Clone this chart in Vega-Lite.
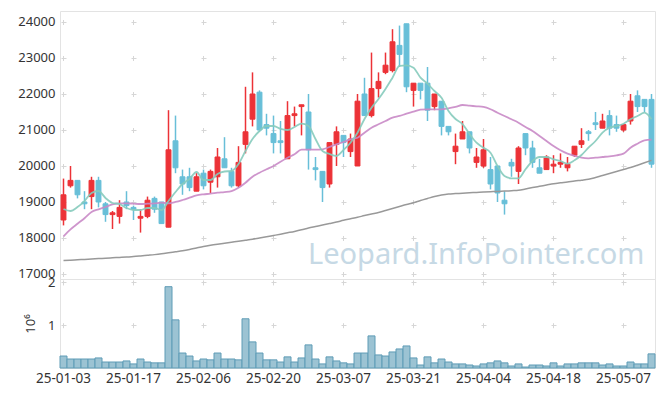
{
"$schema": "https://vega.github.io/schema/vega-lite/v6.json",
"padding": {"left": 17, "top": 10, "right": 9, "bottom": 5},
"spacing": 0,
"bounds": "flush",
"config": {
 "view": {"stroke": "#e3e3e3", "strokeWidth": 1},
 "axis": {"labelFont": "Noto Sans", "titleFont": "Noto Sans", "labelColor": "#333333", "titleColor": "#333333", "labelFontSize": 13, "domain": false, "ticks": false, "gridColor": "#d6d6d6", "gridWidth": 1}
},
"datasets": {"k": [
{"d":"25-01-03","o":18500,"h":19650,"l":18350,"c":19200,"v":280000,"m5":18805,"m20":18047,"m120":17374},
{"d":"25-01-06","o":19450,"h":20000,"l":19400,"c":19600,"v":210000,"m5":18750,"m20":18241,"m120":17383},
{"d":"25-01-07","o":19600,"h":19600,"l":19100,"c":19200,"v":210000,"m5":18861,"m20":18397,"m120":17394},
{"d":"25-01-08","o":19000,"h":19300,"l":18800,"c":18950,"v":210000,"m5":19027,"m20":18547,"m120":17405},
{"d":"25-01-09","o":19150,"h":19700,"l":18800,"c":19600,"v":210000,"m5":19250,"m20":18722,"m120":17416},
{"d":"25-01-10","o":19600,"h":19700,"l":18850,"c":19000,"v":235000,"m5":19305,"m20":18797,"m120":17427},
{"d":"25-01-13","o":18950,"h":19000,"l":18450,"c":18650,"v":140000,"m5":19111,"m20":18861,"m120":17438},
{"d":"25-01-14","o":18650,"h":18750,"l":18250,"c":18700,"v":140000,"m5":18972,"m20":18936,"m120":17449},
{"d":"25-01-15","o":18600,"h":19050,"l":18400,"c":18850,"v":140000,"m5":18944,"m20":18964,"m120":17461},
{"d":"25-01-16","o":19000,"h":19300,"l":18800,"c":18900,"v":165000,"m5":18833,"m20":18964,"m120":17472},
{"d":"25-01-17","o":18850,"h":18900,"l":18500,"c":18800,"v":95000,"m5":18777,"m20":18953,"m120":17483},
{"d":"25-01-20","o":18550,"h":18800,"l":18150,"c":18600,"v":210000,"m5":18777,"m20":18944,"m120":17500},
{"d":"25-01-21","o":18600,"h":19150,"l":18550,"c":19050,"v":140000,"m5":18833,"m20":18953,"m120":17519},
{"d":"25-01-22","o":19100,"h":19150,"l":18700,"c":18800,"v":120000,"m5":18833,"m20":18964,"m120":17538},
{"d":"25-01-23","o":19000,"h":19000,"l":18400,"c":18400,"v":120000,"m5":18777,"m20":18980,"m120":17561},
{"d":"25-01-24","o":18300,"h":21550,"l":18300,"c":20450,"v":1900000,"m5":19027,"m20":18964,"m120":17588},
{"d":"25-01-31","o":20700,"h":21400,"l":19800,"c":19950,"v":1125000,"m5":19277,"m20":19000,"m120":17616},
{"d":"25-02-03","o":19700,"h":19900,"l":19200,"c":19500,"v":350000,"m5":19500,"m20":19055,"m120":17644},
{"d":"25-02-04","o":19700,"h":19950,"l":19300,"c":19400,"v":280000,"m5":19639,"m20":19119,"m120":17680},
{"d":"25-02-05","o":19300,"h":19800,"l":19300,"c":19700,"v":165000,"m5":19833,"m20":19186,"m120":17722},
{"d":"25-02-06","o":19800,"h":19900,"l":19350,"c":19450,"v":210000,"m5":19611,"m20":19214,"m120":17763},
{"d":"25-02-07","o":19550,"h":19900,"l":19250,"c":19850,"v":190000,"m5":19611,"m20":19230,"m120":17797},
{"d":"25-02-10","o":19700,"h":20500,"l":19400,"c":20250,"v":350000,"m5":19777,"m20":19258,"m120":17827},
{"d":"25-02-11","o":20200,"h":20800,"l":19950,"c":19950,"v":210000,"m5":19847,"m20":19277,"m120":17855},
{"d":"25-02-12","o":19850,"h":19950,"l":19400,"c":19450,"v":210000,"m5":19861,"m20":19305,"m120":17883},
{"d":"25-02-13","o":19450,"h":20550,"l":19400,"c":20100,"v":190000,"m5":20055,"m20":19397,"m120":17911},
{"d":"25-02-14","o":20600,"h":22200,"l":20350,"c":20950,"v":1150000,"m5":20416,"m20":19536,"m120":17938},
{"d":"25-02-17","o":21300,"h":22600,"l":21100,"c":22000,"v":610000,"m5":20750,"m20":19702,"m120":17966},
{"d":"25-02-18","o":22050,"h":22100,"l":20950,"c":21000,"v":350000,"m5":20972,"m20":19814,"m120":18000},
{"d":"25-02-19","o":21150,"h":21450,"l":20850,"c":21050,"v":190000,"m5":21111,"m20":19908,"m120":18033},
{"d":"25-02-20","o":20900,"h":21400,"l":20350,"c":20650,"v":190000,"m5":21111,"m20":20000,"m120":18069},
{"d":"25-02-21","o":20700,"h":21250,"l":20350,"c":20650,"v":140000,"m5":21028,"m20":20119,"m120":18105},
{"d":"25-02-24","o":20200,"h":21800,"l":20200,"c":21400,"v":260000,"m5":21000,"m20":20230,"m120":18144},
{"d":"25-02-25","o":21400,"h":21650,"l":21100,"c":21450,"v":140000,"m5":21083,"m20":20325,"m120":18183},
{"d":"25-02-26","o":21650,"h":21700,"l":20850,"c":21700,"v":235000,"m5":21175,"m20":20453,"m120":18227},
{"d":"25-02-27","o":21500,"h":22000,"l":19900,"c":20450,"v":540000,"m5":21111,"m20":20453,"m120":18277},
{"d":"25-02-28","o":19950,"h":20250,"l":19600,"c":19900,"v":210000,"m5":20750,"m20":20453,"m120":18319},
{"d":"25-03-04","o":19850,"h":19850,"l":19000,"c":19400,"v":95000,"m5":20416,"m20":20464,"m120":18361},
{"d":"25-03-05","o":19500,"h":20650,"l":19400,"c":20650,"v":260000,"m5":20333,"m20":20528,"m120":18402},
{"d":"25-03-06","o":20600,"h":21100,"l":20000,"c":20950,"v":165000,"m5":20278,"m20":20603,"m120":18444},
{"d":"25-03-07","o":20850,"h":20850,"l":20250,"c":20650,"v":120000,"m5":20444,"m20":20666,"m120":18491},
{"d":"25-03-10","o":20400,"h":20900,"l":20250,"c":20750,"v":95000,"m5":20647,"m20":20741,"m120":18533},
{"d":"25-03-11","o":20000,"h":22000,"l":20000,"c":21800,"v":350000,"m5":20925,"m20":20786,"m120":18575},
{"d":"25-03-12","o":22000,"h":22450,"l":21400,"c":21400,"v":350000,"m5":21305,"m20":20925,"m120":18622},
{"d":"25-03-13","o":21400,"h":23150,"l":21350,"c":22150,"v":750000,"m5":21619,"m20":21064,"m120":18666},
{"d":"25-03-14","o":22150,"h":22600,"l":21900,"c":22350,"v":305000,"m5":21861,"m20":21158,"m120":18708},
{"d":"25-03-17","o":22600,"h":23150,"l":22550,"c":22800,"v":280000,"m5":22139,"m20":21250,"m120":18764},
{"d":"25-03-18","o":22650,"h":23800,"l":22600,"c":23450,"v":375000,"m5":22453,"m20":21341,"m120":18819},
{"d":"25-03-19","o":23350,"h":23900,"l":22750,"c":23100,"v":445000,"m5":22778,"m20":21389,"m120":18875},
{"d":"25-03-20","o":23950,"h":23950,"l":22050,"c":22200,"v":515000,"m5":22797,"m20":21453,"m120":18930},
{"d":"25-03-21","o":22100,"h":22300,"l":21650,"c":22300,"v":235000,"m5":22731,"m20":21508,"m120":18980},
{"d":"25-03-24","o":22300,"h":22300,"l":21850,"c":22100,"v":70000,"m5":22453,"m20":21564,"m120":19041},
{"d":"25-03-25","o":22300,"h":22750,"l":21250,"c":21550,"v":260000,"m5":22286,"m20":21575,"m120":19097},
{"d":"25-03-26","o":21650,"h":22000,"l":21550,"c":22000,"v":120000,"m5":22083,"m20":21575,"m120":19152},
{"d":"25-03-27","o":21800,"h":21800,"l":20850,"c":21100,"v":210000,"m5":21897,"m20":21575,"m120":19194},
{"d":"25-03-28","o":21100,"h":21100,"l":20850,"c":20950,"v":140000,"m5":21528,"m20":21603,"m120":19222},
{"d":"25-03-31","o":20400,"h":20900,"l":20050,"c":20550,"v":95000,"m5":21305,"m20":21639,"m120":19233},
{"d":"25-04-01","o":20750,"h":21250,"l":20750,"c":20950,"v":95000,"m5":21166,"m20":21694,"m120":19244},
{"d":"25-04-02","o":20950,"h":20950,"l":20350,"c":20500,"v":70000,"m5":20889,"m20":21675,"m120":19255},
{"d":"25-04-03","o":20100,"h":20500,"l":19950,"c":20250,"v":47000,"m5":20647,"m20":21658,"m120":19266},
{"d":"25-04-04","o":20000,"h":20750,"l":19950,"c":20450,"v":95000,"m5":20508,"m20":21639,"m120":19277},
{"d":"25-04-07","o":19900,"h":20250,"l":19350,"c":19500,"v":120000,"m5":20369,"m20":21575,"m120":19286},
{"d":"25-04-08","o":20000,"h":20000,"l":19000,"c":19250,"v":165000,"m5":20000,"m20":21480,"m120":19294},
{"d":"25-04-09","o":19050,"h":19300,"l":18650,"c":18950,"v":120000,"m5":19722,"m20":21389,"m120":19302},
{"d":"25-04-10","o":20100,"h":20200,"l":19700,"c":20000,"v":47000,"m5":19658,"m20":21297,"m120":19313},
{"d":"25-04-11","o":19850,"h":20550,"l":19500,"c":20500,"v":95000,"m5":19658,"m20":21203,"m120":19324},
{"d":"25-04-14","o":20900,"h":20900,"l":20300,"c":20500,"v":23000,"m5":19908,"m20":21083,"m120":19361},
{"d":"25-04-15","o":20500,"h":20700,"l":19950,"c":20100,"v":70000,"m5":20139,"m20":20972,"m120":19400},
{"d":"25-04-16","o":19950,"h":20200,"l":19800,"c":19800,"v":70000,"m5":20250,"m20":20833,"m120":19436},
{"d":"25-04-17","o":19900,"h":20300,"l":19900,"c":20250,"v":47000,"m5":20250,"m20":20694,"m120":19472},
{"d":"25-04-18","o":20000,"h":20300,"l":19800,"c":20050,"v":120000,"m5":20186,"m20":20555,"m120":19508},
{"d":"25-04-21","o":20050,"h":20350,"l":19950,"c":20100,"v":47000,"m5":20139,"m20":20436,"m120":19533},
{"d":"25-04-22","o":19950,"h":20250,"l":19850,"c":20050,"v":95000,"m5":20064,"m20":20342,"m120":19555},
{"d":"25-04-23","o":20300,"h":20550,"l":20250,"c":20550,"v":95000,"m5":20158,"m20":20278,"m120":19583},
{"d":"25-04-24","o":20600,"h":21050,"l":20500,"c":20700,"v":120000,"m5":20305,"m20":20230,"m120":19605},
{"d":"25-04-25","o":20950,"h":21000,"l":20700,"c":20900,"v":120000,"m5":20508,"m20":20214,"m120":19630},
{"d":"25-04-28","o":21200,"h":21500,"l":21000,"c":21150,"v":120000,"m5":20694,"m20":20230,"m120":19680},
{"d":"25-04-29","o":21050,"h":21450,"l":21050,"c":21250,"v":70000,"m5":20925,"m20":20250,"m120":19736},
{"d":"25-04-30","o":21400,"h":21550,"l":20850,"c":21050,"v":95000,"m5":21064,"m20":20269,"m120":19791},
{"d":"25-05-02","o":21150,"h":21400,"l":20950,"c":21050,"v":47000,"m5":21111,"m20":20297,"m120":19847},
{"d":"25-05-07","o":21000,"h":21150,"l":20950,"c":21150,"v":47000,"m5":21175,"m20":20342,"m120":19902},
{"d":"25-05-08","o":21250,"h":22000,"l":21150,"c":21800,"v":140000,"m5":21297,"m20":20508,"m120":19958},
{"d":"25-05-09","o":21950,"h":22100,"l":21500,"c":21650,"v":95000,"m5":21389,"m20":20619,"m120":20022},
{"d":"25-05-12","o":21850,"h":21850,"l":21500,"c":21650,"v":95000,"m5":21480,"m20":20714,"m120":20089},
{"d":"25-05-13","o":21850,"h":22000,"l":19950,"c":20050,"v":330000,"m5":21297,"m20":20730,"m120":20158}
]},
"vconcat": [
 {
  "width": 595, "height": 268,
  "data": {"name": "k"},
  "encoding": {"x": {"field": "d", "type": "ordinal", "scale": {"paddingInner": 0, "paddingOuter": 0},
    "axis": {"labels": false, "title": null, "labelPadding": 0, "values": ["25-01-03","25-01-17","25-02-06","25-02-20","25-03-07","25-03-21","25-04-04","25-04-18","25-05-07"], "grid": true, "gridDash": [5, 31], "gridDashOffset": 27.5}}},
  "layer": [
   {"data": {"values": [{}]},
    "mark": {"type": "text", "text": "Leopard.InfoPointer.com", "align": "right", "baseline": "alphabetic", "font": "Noto Sans", "fontSize": 29, "color": "#c6d9e5"},
    "encoding": {"x": {"datum": "25-05-12", "type": "ordinal"}, "y": {"datum": 17270, "type": "quantitative", "scale": {"domain": [16861, 24305], "nice": false, "zero": false},
       "axis": {"title": null, "values": [17000,18000,19000,20000,21000,22000,23000,24000], "format": "d", "labelOverlap": false, "labelPadding": 5, "grid": true, "gridDash": [5, 65], "gridDashOffset": 69}}}},
   {"mark": {"type": "rule", "strokeWidth": 1.5},
    "encoding": {
     "y": {"field": "h", "type": "quantitative", "scale": {"domain": [16861, 24305], "nice": false, "zero": false},
       "axis": {"title": null, "values": [17000,18000,19000,20000,21000,22000,23000,24000], "format": "d", "labelOverlap": false, "labelPadding": 5, "grid": true, "gridDash": [5, 65], "gridDashOffset": 69}},
     "y2": {"field": "l"},
     "color": {"condition": {"test": "datum.c >= datum.o", "value": "#ec3237"}, "value": "#68bfd8"}}},
   {"mark": {"type": "bar", "width": {"band": 0.7}, "strokeWidth": 1},
    "encoding": {
     "y": {"field": "o", "type": "quantitative", "scale": {"domain": [16861, 24305], "nice": false, "zero": false},
       "axis": {"title": null, "values": [17000,18000,19000,20000,21000,22000,23000,24000], "format": "d", "labelOverlap": false, "labelPadding": 5, "grid": true, "gridDash": [5, 65], "gridDashOffset": 69}},
     "y2": {"field": "c"},
     "color": {"condition": {"test": "datum.c >= datum.o", "value": "#ec3237"}, "value": "#68bfd8"},
     "stroke": {"condition": {"test": "datum.c >= datum.o", "value": "#ec3237"}, "value": "#68bfd8"}}},
   {"mark": {"type": "line", "color": "#999999", "strokeWidth": 1.5, "interpolate": "monotone"},
    "encoding": {"y": {"field": "m120", "type": "quantitative", "scale": {"domain": [16861, 24305], "nice": false, "zero": false},
       "axis": {"title": null, "values": [17000,18000,19000,20000,21000,22000,23000,24000], "format": "d", "labelOverlap": false, "labelPadding": 5, "grid": true, "gridDash": [5, 65], "gridDashOffset": 69}}}},
   {"mark": {"type": "line", "color": "#c98ac6", "strokeWidth": 1.8, "opacity": 0.9, "interpolate": "monotone"},
    "encoding": {"y": {"field": "m20", "type": "quantitative", "scale": {"domain": [16861, 24305], "nice": false, "zero": false},
       "axis": {"title": null, "values": [17000,18000,19000,20000,21000,22000,23000,24000], "format": "d", "labelOverlap": false, "labelPadding": 5, "grid": true, "gridDash": [5, 65], "gridDashOffset": 69}}}},
   {"mark": {"type": "line", "color": "#86cbbd", "strokeWidth": 1.8, "opacity": 0.9, "interpolate": "monotone"},
    "encoding": {"y": {"field": "m5", "type": "quantitative", "scale": {"domain": [16861, 24305], "nice": false, "zero": false},
       "axis": {"title": null, "values": [17000,18000,19000,20000,21000,22000,23000,24000], "format": "d", "labelOverlap": false, "labelPadding": 5, "grid": true, "gridDash": [5, 65], "gridDashOffset": 69}}}}
  ]
 },
 {
  "width": 595, "height": 89,
  "data": {"name": "k"},
  "mark": {"type": "bar", "width": {"band": 1}, "fill": "#9cc3d3", "stroke": "#5f9cb6", "strokeWidth": 1},
  "encoding": {
   "x": {"field": "d", "type": "ordinal", "scale": {"paddingInner": 0, "paddingOuter": 0},
    "axis": {"title": null, "values": ["25-01-03","25-01-17","25-02-06","25-02-20","25-03-07","25-03-21","25-04-04","25-04-18","25-05-07"], "labelAngle": 0, "labelPadding": 3, "labelFontSize": 13.5, "labelOverlap": false, "grid": true, "gridDash": [5, 37.79], "gridDashOffset": 41.87}},
   "y": {"field": "v", "type": "quantitative", "scale": {"domain": [0, 2080000], "nice": false},
    "axis": {"values": [1000000, 2000000], "labelExpr": "datum.value / 1000000", "labelOverlap": false, "labelPadding": 5, "title": "10⁶", "titleFontWeight": "normal", "titleFontSize": 13, "titlePadding": 10, "grid": true, "gridDash": [5, 65], "gridDashOffset": 69}}
  }
 }
]
}
